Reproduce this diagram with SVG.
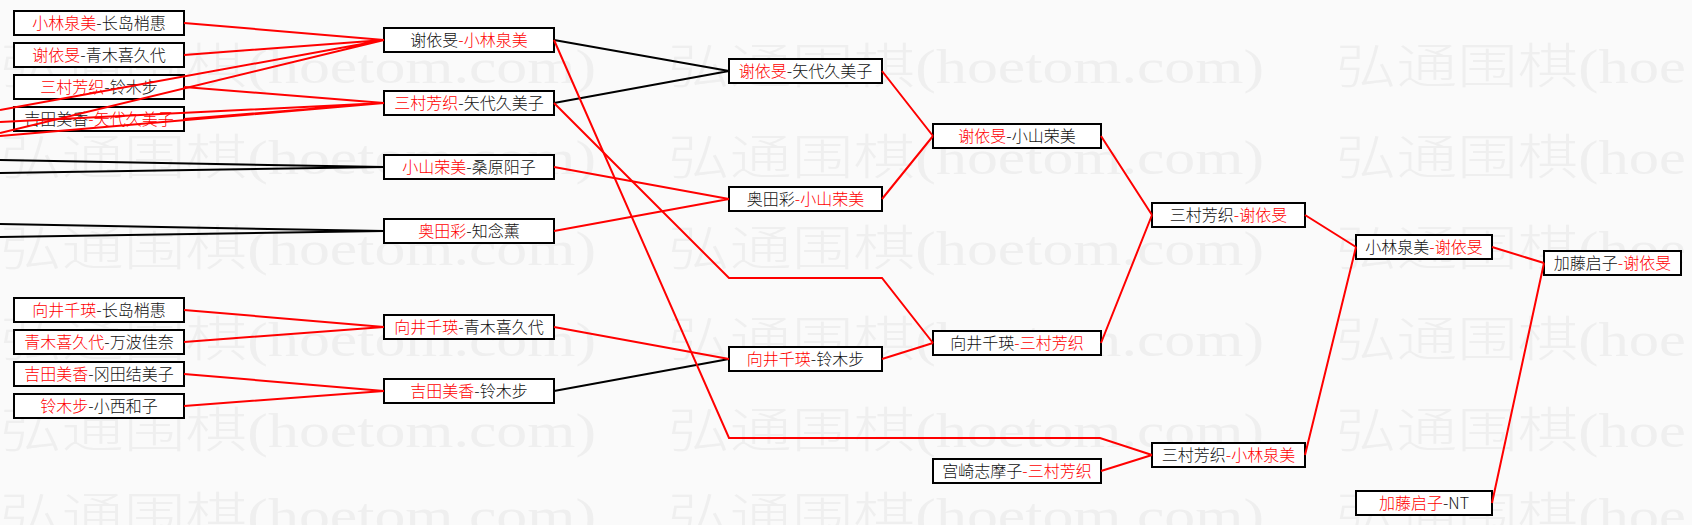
<svg xmlns="http://www.w3.org/2000/svg" width="1692" height="525" viewBox="0 0 1692 525">
<style>
.bg{fill:#fafafa}
.wm{font-family:"Liberation Serif","Noto Sans CJK SC",serif;font-size:48px;font-weight:300;fill:#efefef}
.box{fill:#fff;stroke:#000;stroke-width:2}
.t{font-family:"Noto Sans CJK SC",sans-serif;font-size:16px;font-weight:300;text-anchor:middle;fill:#111}
.r{fill:#f00}
.lr{stroke:#f00;stroke-width:2;fill:none}
.lb{stroke:#000;stroke-width:2;fill:none}
</style>
<rect class="bg" x="0" y="0" width="1692" height="525"/>
<g id="watermark">
<text class="wm" x="0" y="83" textLength="596" lengthAdjust="spacingAndGlyphs">弘通围棋(hoetom.com)</text>
<text class="wm" x="668" y="83" textLength="596" lengthAdjust="spacingAndGlyphs">弘通围棋(hoetom.com)</text>
<text class="wm" x="1336" y="83" textLength="350" lengthAdjust="spacingAndGlyphs">弘通围棋(hoe</text>
<text class="wm" x="0" y="174" textLength="596" lengthAdjust="spacingAndGlyphs">弘通围棋(hoetom.com)</text>
<text class="wm" x="668" y="174" textLength="596" lengthAdjust="spacingAndGlyphs">弘通围棋(hoetom.com)</text>
<text class="wm" x="1336" y="174" textLength="350" lengthAdjust="spacingAndGlyphs">弘通围棋(hoe</text>
<text class="wm" x="0" y="265" textLength="596" lengthAdjust="spacingAndGlyphs">弘通围棋(hoetom.com)</text>
<text class="wm" x="668" y="265" textLength="596" lengthAdjust="spacingAndGlyphs">弘通围棋(hoetom.com)</text>
<text class="wm" x="1336" y="265" textLength="350" lengthAdjust="spacingAndGlyphs">弘通围棋(hoe</text>
<text class="wm" x="0" y="356" textLength="596" lengthAdjust="spacingAndGlyphs">弘通围棋(hoetom.com)</text>
<text class="wm" x="668" y="356" textLength="596" lengthAdjust="spacingAndGlyphs">弘通围棋(hoetom.com)</text>
<text class="wm" x="1336" y="356" textLength="350" lengthAdjust="spacingAndGlyphs">弘通围棋(hoe</text>
<text class="wm" x="0" y="447" textLength="596" lengthAdjust="spacingAndGlyphs">弘通围棋(hoetom.com)</text>
<text class="wm" x="668" y="447" textLength="596" lengthAdjust="spacingAndGlyphs">弘通围棋(hoetom.com)</text>
<text class="wm" x="1336" y="447" textLength="350" lengthAdjust="spacingAndGlyphs">弘通围棋(hoe</text>
<text class="wm" x="0" y="532" textLength="596" lengthAdjust="spacingAndGlyphs">弘通围棋(hoetom.com)</text>
<text class="wm" x="668" y="532" textLength="596" lengthAdjust="spacingAndGlyphs">弘通围棋(hoetom.com)</text>
<text class="wm" x="1336" y="532" textLength="350" lengthAdjust="spacingAndGlyphs">弘通围棋(hoe</text>
</g>
<g id="nodes">
<g id="n1a"><rect class="box" x="14" y="11" width="170" height="24"/><text class="t" x="99" y="28.5"><tspan class="r">小林泉美</tspan>-长岛梢惠</text></g>
<g id="n1b"><rect class="box" x="14" y="43" width="170" height="24"/><text class="t" x="99" y="60.5"><tspan class="r">谢依旻</tspan>-青木喜久代</text></g>
<g id="n1c"><rect class="box" x="14" y="75" width="170" height="24"/><text class="t" x="99" y="92.5"><tspan class="r">三村芳织</tspan>-铃木步</text></g>
<g id="n1d"><rect class="box" x="14" y="107" width="170" height="24"/><text class="t" x="99" y="124.5">吉田美香<tspan class="r">-矢代久美子</tspan></text></g>
<g id="n1e"><rect class="box" x="14" y="298" width="170" height="24"/><text class="t" x="99" y="315.5"><tspan class="r">向井千瑛</tspan>-长岛梢惠</text></g>
<g id="n1f"><rect class="box" x="14" y="330" width="170" height="24"/><text class="t" x="99" y="347.5"><tspan class="r">青木喜久代</tspan>-万波佳奈</text></g>
<g id="n1g"><rect class="box" x="14" y="362" width="170" height="24"/><text class="t" x="99" y="379.5"><tspan class="r">吉田美香</tspan>-冈田结美子</text></g>
<g id="n1h"><rect class="box" x="14" y="394" width="170" height="24"/><text class="t" x="99" y="411.5"><tspan class="r">铃木步</tspan>-小西和子</text></g>
<g id="n2a"><rect class="box" x="384" y="28" width="170" height="24"/><text class="t" x="469" y="45.5">谢依旻<tspan class="r">-小林泉美</tspan></text></g>
<g id="n2b"><rect class="box" x="384" y="91" width="170" height="24"/><text class="t" x="469" y="108.5"><tspan class="r">三村芳织</tspan>-矢代久美子</text></g>
<g id="n2c"><rect class="box" x="384" y="155" width="170" height="24"/><text class="t" x="469" y="172.5"><tspan class="r">小山荣美</tspan>-桑原阳子</text></g>
<g id="n2d"><rect class="box" x="384" y="219" width="170" height="24"/><text class="t" x="469" y="236.5"><tspan class="r">奥田彩</tspan>-知念薰</text></g>
<g id="n2e"><rect class="box" x="384" y="315" width="170" height="24"/><text class="t" x="469" y="332.5"><tspan class="r">向井千瑛</tspan>-青木喜久代</text></g>
<g id="n2f"><rect class="box" x="384" y="379" width="170" height="24"/><text class="t" x="469" y="396.5"><tspan class="r">吉田美香</tspan>-铃木步</text></g>
<g id="n3a"><rect class="box" x="729" y="59" width="153" height="24"/><text class="t" x="805.5" y="76.5"><tspan class="r">谢依旻</tspan>-矢代久美子</text></g>
<g id="n3b"><rect class="box" x="729" y="187" width="153" height="24"/><text class="t" x="805.5" y="204.5">奥田彩<tspan class="r">-小山荣美</tspan></text></g>
<g id="n3c"><rect class="box" x="729" y="347" width="153" height="24"/><text class="t" x="805.5" y="364.5"><tspan class="r">向井千瑛</tspan>-铃木步</text></g>
<g id="n4a"><rect class="box" x="933" y="124" width="168" height="24"/><text class="t" x="1017" y="141.5"><tspan class="r">谢依旻</tspan>-小山荣美</text></g>
<g id="n4b"><rect class="box" x="933" y="331" width="168" height="24"/><text class="t" x="1017" y="348.5">向井千瑛<tspan class="r">-三村芳织</tspan></text></g>
<g id="n4c"><rect class="box" x="933" y="459" width="168" height="24"/><text class="t" x="1017" y="476.5">宫崎志摩子<tspan class="r">-三村芳织</tspan></text></g>
<g id="n5a"><rect class="box" x="1152" y="203" width="153" height="24"/><text class="t" x="1228.5" y="220.5">三村芳织<tspan class="r">-谢依旻</tspan></text></g>
<g id="n5b"><rect class="box" x="1152" y="443" width="153" height="24"/><text class="t" x="1228.5" y="460.5">三村芳织<tspan class="r">-小林泉美</tspan></text></g>
<g id="n6a"><rect class="box" x="1356" y="235" width="136" height="24"/><text class="t" x="1424" y="252.5">小林泉美<tspan class="r">-谢依旻</tspan></text></g>
<g id="n6b"><rect class="box" x="1356" y="491" width="136" height="24"/><text class="t" x="1424" y="508.5"><tspan class="r">加藤启子</tspan>-NT</text></g>
<g id="n7a"><rect class="box" x="1544" y="251" width="137" height="24"/><text class="t" x="1612.5" y="268.5">加藤启子<tspan class="r">-谢依旻</tspan></text></g>
</g>
<g id="connectors">
<path class="lr" d="M184,23 L384,40 M184,55 L384,40 M0,110 L384,40 M0,133 L384,40"/>
<path class="lr" d="M184,87 L384,103 M184,119 L384,103 M0,122 L384,103 M0,136 L384,103"/>
<path class="lb" d="M0,160 L384,167 M0,173 L384,167 M0,224 L384,231 M0,237 L384,231"/>
<path class="lr" d="M184,310 L384,327 M184,342 L384,327 M184,374 L384,391 M184,406 L384,391"/>
<path class="lb" d="M554,40 L729,71 M554,103 L729,71 M554,391 L729,359"/>
<path class="lr" d="M554,167 L729,199 M554,231 L729,199 M554,327 L729,359"/>
<path class="lr" d="M554,40 L729,438 L1100,438 L1152,455"/>
<path class="lr" d="M554,103 L729,278 L882,278 L933,343"/>
<path class="lr" d="M882,71 L933,136 M882,199 L933,136 M882,359 L933,343"/>
<path class="lr" d="M1101,136 L1152,215 M1101,343 L1152,215 M1101,471 L1152,455"/>
<path class="lr" d="M1305,215 L1356,247 M1305,455 L1356,247"/>
<path class="lr" d="M1492,247 L1544,263 M1492,503 L1544,263"/>
</g>
</svg>
